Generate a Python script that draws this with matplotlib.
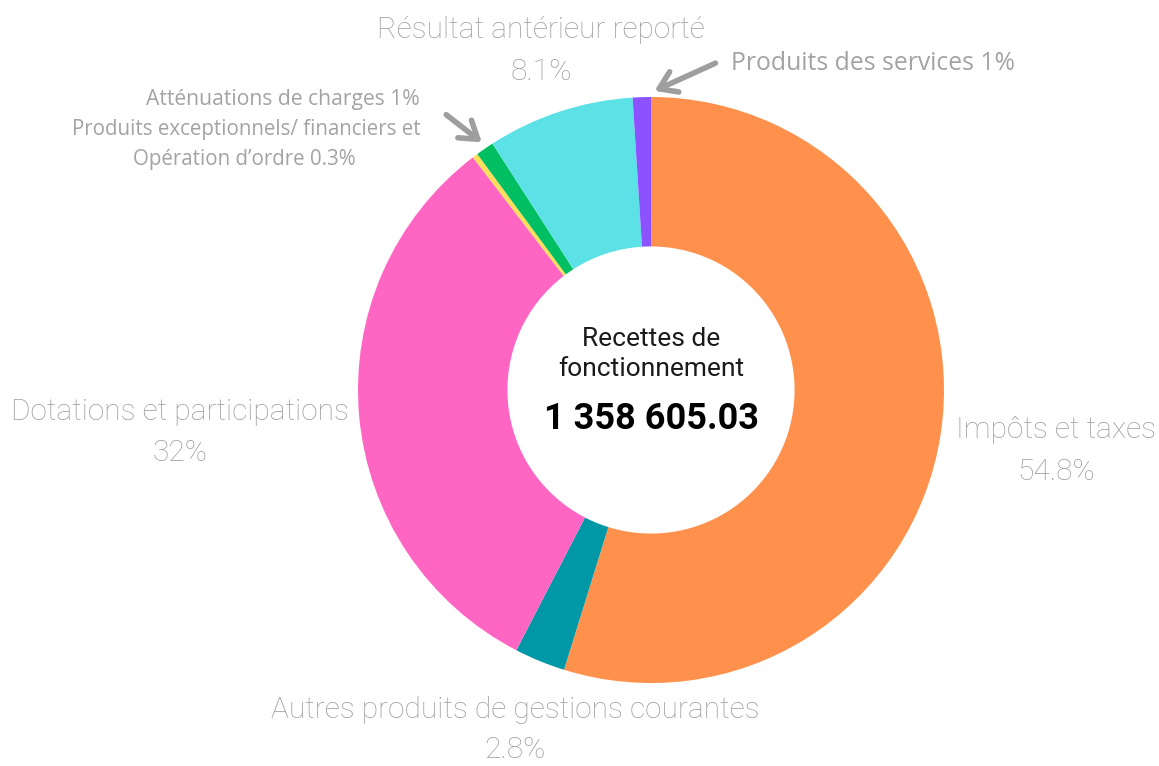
import matplotlib.pyplot as plt

W, H = 1159, 766

labels = ["Impôts et taxes", "Autres produits de gestions courantes", "Dotations et participations",
          "Produits exceptionnels/ financiers et Opération d'ordre", "Atténuations de charges",
          "Résultat antérieur reporté", "Produits des services"]
shares = [54.8, 2.8, 32.0, 0.3, 1.0, 8.1, 1.0]
colors = ["#FF914D", "#0097A7", "#FF66C4", "#FFDE59", "#00BF63", "#5CE1E6", "#8C52FF"]

total = "1 358 605.03"
center_title = "Recettes de\nfonctionnement"

gray = "#9E9E9E"
big_font = ["Roboto", "DejaVu Sans"]
small_font = ["Open Sans", "DejaVu Sans"]

fig = plt.figure(figsize=(W / 100, H / 100), dpi=100)
ax = fig.add_axes([0, 0, 1, 1])
ax.set_xlim(0, W)
ax.set_ylim(0, H)
ax.set_aspect("equal")
ax.axis("off")

cx, cy, r = 651, H - 390, 293
ax.pie(shares, colors=colors, startangle=90, counterclock=False,
       center=(cx, cy), radius=r, wedgeprops=dict(width=r * 0.51, linewidth=0))
ax.set_xlim(0, W)
ax.set_ylim(0, H)


def txt(x, y, s, size, fam=big_font, **kw):
    ax.text(x, H - y, s, fontsize=size, family=fam, color=kw.pop("color", gray),
            ha=kw.pop("ha", "center"), va="center", **kw)


# big labels
bs = 21.5
txt(541, 30, "Résultat antérieur reporté", bs, fontweight="light")
txt(541, 72, "8.1%", bs, fontweight="light")
txt(180, 412, "Dotations et participations", bs, fontweight="light")
txt(180, 453, "32%", bs, fontweight="light")
txt(1056, 430, "Impôts et taxes", bs, fontweight="light")
txt(1056, 472, "54.8%", bs, fontweight="light")
txt(515, 710, "Autres produits de gestions courantes", bs, fontweight="light")
txt(515, 750, "2.8%", bs, fontweight="light")

# small labels
sg = "#A3A3A3"
txt(731, 63, "Produits des services 1%", 17.8, fam=small_font, ha="left", color=sg)
txt(420, 99, "Atténuations de charges 1%", 15.2, fam=small_font, ha="right", color=sg)
txt(246, 130, "Produits exceptionnels/ financiers et", 14.8, fam=small_font, color=sg)
txt(244, 159, "Opération d\u2019ordre 0.3%", 14.8, fam=small_font, color=sg)

# arrows
ax.annotate("", xy=(484, H - 144), xytext=(444, H - 113),
            arrowprops=dict(arrowstyle="->,head_length=0.6,head_width=0.4", color=gray,
                            lw=4, mutation_scale=20))
ax.annotate("", xy=(652, H - 92), xytext=(718, H - 62),
            arrowprops=dict(arrowstyle="->,head_length=0.6,head_width=0.4", color=gray,
                            lw=4, mutation_scale=20))

# centre text
txt(651, 354, center_title, 19, color="#1a1a1a", linespacing=1.3)
txt(651, 419, total, 26, color="black", fontweight="bold")

fig.savefig("out.png", dpi=100)
